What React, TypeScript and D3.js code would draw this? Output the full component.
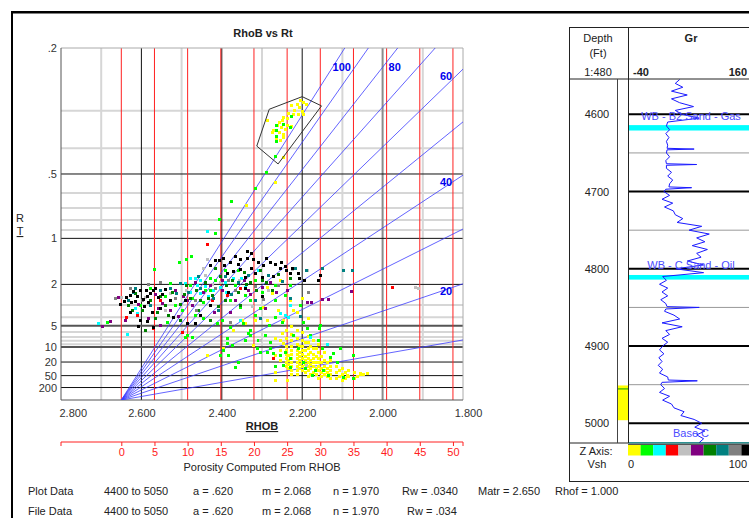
import React, { useEffect, useRef } from 'react';
import * as d3 from 'd3';

const FONT = '"Liberation Sans", Arial, sans-serif';

// parameters printed in the footer, also used for the Sw lines
const paramA = 0.62;
const paramM = 2.068;
const paramN = 1.97;
const paramRw = 0.034;
const matrixDensity = 2.65;
const fluidDensity = 1.0;

const rhobTicks = [2.8, 2.6, 2.4, 2.2, 2.0, 1.8];
const rhobMinor = [2.7, 2.5, 2.3, 2.1, 1.9];
const rtTickLabels = [0.2, 0.5, 1, 2, 5, 10, 20, 50, 200];
const rtMajor = [0.5, 1, 2, 20, 50, 200];
const rtMid = [5, 10];
const rtMinor = [0.3, 0.4, 0.6, 0.7, 0.8, 0.9, 3, 4, 6, 7, 8, 9];
const porosityTicks = [0, 5, 10, 15, 20, 25, 30, 35, 40, 45, 50];
const swValues = [10, 20, 30, 40, 50, 60, 70, 80, 90, 100];
const swLabeled = [100, 80, 60, 40, 20];

const vshColors = ['#ffff00', '#00ff00', '#00ffff', '#ff0000', '#c0c0c0', '#800080', '#008000', '#008080', '#808080', '#000000'];

// [RHOB, Rt] by Vsh class
const yellowPts: [number, number][] = [
  [2.205, 0.279], [2.197, 0.283], [2.214, 0.286], [2.229, 0.288], [2.207, 0.292], [2.201, 0.3], [2.22, 0.298], [2.236, 0.304],
  [2.21, 0.308], [2.197, 0.308], [2.222, 0.308], [2.247, 0.313], [2.239, 0.317], [2.251, 0.322], [2.257, 0.327], [2.247, 0.33],
  [2.239, 0.333], [2.262, 0.334], [2.253, 0.339], [2.243, 0.344], [2.257, 0.351], [2.272, 0.347], [2.249, 0.358], [2.247, 0.365],
  [2.264, 0.368], [2.255, 0.373], [2.276, 0.351], [2.288, 0.321], [2.268, 0.538], [2.249, 0.429], [2.228, 0.336], [2.191, 0.286],
  [2.288, 2.1], [2.275, 2.35], [2.255, 1.85], [2.23, 2.7], [2.2, 2.59], [2.223, 3.36], [2.26, 3.36], [2.298, 3.14],
  [2.35, 4.28], [2.342, 4.63], [2.288, 4.28], [2.248, 4.28], [2.25, 6.18], [2.268, 7.25], [2.248, 8.6], [2.372, 5.64],
  [2.437, 14.1], [2.397, 10.4], [2.322, 9.29], [2.268, 75], [2.238, 75], [2.089, 47.4], [2.039, 40.5], [2.056, 40.5],
  [2.34, 0.68], [2.213, 3.51], [2.186, 4.07], [2.317, 4.28],
  [2.24, 5.64], [2.24, 7.25], [2.24, 9.65], [2.24, 11.3], [2.24, 13.4], [2.24, 16.2], [2.24, 20], [2.24, 25.1],
  [2.228, 5.03], [2.228, 6.37], [2.228, 7.76], [2.228, 9.65], [2.228, 11.3], [2.228, 13.4], [2.228, 16.2], [2.228, 20], [2.228, 25.1], [2.228, 32.5], [2.228, 43.7],
  [2.213, 5.64], [2.213, 7.25], [2.213, 8.95], [2.213, 11.3], [2.213, 13.4], [2.213, 16.2], [2.213, 20], [2.213, 25.1], [2.213, 32.5], [2.213, 43.7],
  [2.2, 5.99], [2.2, 7.76], [2.2, 9.65], [2.2, 11.3], [2.2, 13.4], [2.2, 16.2], [2.2, 20], [2.2, 25.1], [2.2, 32.5],
  [2.186, 6.79], [2.186, 8.32], [2.186, 10.4], [2.186, 13.4], [2.186, 16.2], [2.186, 20], [2.186, 25.1], [2.186, 32.5], [2.186, 51.6],
  [2.173, 7.76], [2.173, 10.4], [2.173, 13.4], [2.173, 16.2], [2.173, 20], [2.173, 25.1], [2.173, 37.5],
  [2.161, 8.95], [2.161, 12.3], [2.161, 16.2], [2.161, 20], [2.161, 25.1], [2.161, 32.5], [2.161, 61.8],
  [2.146, 12.3], [2.146, 17.9], [2.146, 25.1], [2.146, 32.5], [2.146, 43.7],
  [2.131, 17.9], [2.131, 25.1], [2.131, 32.5], [2.131, 43.7], [2.131, 61.8],
  [2.116, 25.1], [2.116, 37.5], [2.116, 61.8], [2.101, 28.5], [2.101, 43.7], [2.101, 75],
  [2.086, 32.5], [2.086, 51.6], [2.071, 37.5], [2.071, 61.8], [2.056, 43.7],
  [2.255, 7.76], [2.255, 11.3], [2.255, 17.9], [2.268, 14.1], [2.268, 37.5],
  [2.235, 14.1], [2.235, 17.9], [2.235, 22.3], [2.235, 28.5],
  [2.207, 9.65], [2.207, 12.3], [2.207, 14.7], [2.207, 17.9], [2.207, 22.3], [2.207, 28.5],
  [2.193, 8.32], [2.193, 11.3], [2.193, 14.7], [2.193, 17.9], [2.193, 22.3], [2.193, 37.5],
  [2.18, 9.65], [2.18, 12.3], [2.18, 17.9], [2.18, 22.3], [2.18, 28.5], [2.18, 43.7],
  [2.166, 10.4], [2.166, 14.7], [2.166, 20], [2.166, 28.5], [2.166, 43.7],
  [2.153, 14.7], [2.153, 20], [2.153, 28.5], [2.153, 37.5], [2.153, 51.6],
  [2.138, 20], [2.138, 28.5], [2.138, 37.5], [2.138, 51.6],
  [2.108, 32.5], [2.108, 51.6], [2.093, 37.5], [2.093, 61.8], [2.063, 51.6], [2.048, 43.7],
];

const limePts: [number, number][] = [
  [2.579, 2.13], [2.541, 2.49], [2.516, 3.0], [2.479, 2.02], [2.442, 2.22], [2.417, 1.85], [2.392, 1.57], [2.367, 2.02],
  [2.342, 2.44], [2.317, 1.85], [2.3, 2.3], [2.268, 2.02], [2.23, 2.02], [2.205, 3.0], [2.268, 2.7], [2.38, 2.7],
  [2.467, 1.92], [2.429, 1.79], [2.474, 2.59], [2.447, 2.81], [2.499, 3.36], [2.467, 3.78], [2.399, 4.28], [2.38, 5.17],
  [2.347, 4.63], [2.317, 3.78], [2.305, 3.21], [2.355, 3.14], [2.335, 6.18], [2.492, 7.0], [2.474, 7.0], [2.387, 8.6],
  [2.536, 4.51], [2.487, 6.58], [2.412, 4.63], [2.404, 14.1], [2.385, 14.1], [2.397, 11.3], [2.375, 9.29], [2.36, 20],
  [2.367, 26.5], [2.387, 7.25],
  [2.268, 3.97], [2.25, 4.51], [2.283, 4.89], [2.33, 5.64], [2.33, 6.58], [2.31, 7.76], [2.28, 8.32], [2.28, 10.4],
  [2.305, 12.3], [2.288, 12.3], [2.273, 12.9], [2.255, 14.1], [2.243, 12.3], [2.23, 16.2], [2.23, 26.5], [2.248, 23.7],
  [2.268, 25.1], [2.198, 20], [2.193, 28.5], [2.176, 47.4], [2.168, 32.5], [2.148, 32.5], [2.131, 15.4], [2.123, 12.9],
  [2.136, 47.4], [2.099, 56], [2.074, 61.8], [2.114, 20], [2.21, 10.4], [2.223, 6.58], [2.198, 4.51], [2.188, 5.32],
  [2.151, 10.4], [2.106, 10.4], [2.074, 14.1], [2.181, 6.58], [2.161, 7.76], [2.156, 4.89], [2.158, 5.32],
  [2.377, 0.65], [2.407, 0.79], [2.417, 0.94], [2.506, 1.38], [2.477, 1.27], [2.569, 1.55], [2.489, 1.32], [2.686, 4.51],
  [2.317, 0.57], [2.229, 0.311], [2.23, 0.339], [2.249, 0.33], [2.266, 0.334], [2.266, 0.345], [2.266, 0.363], [2.266, 0.376],
  [2.268, 0.427], [2.29, 0.49],
  [2.603, 3.0], [2.529, 1.95], [2.429, 2.22], [2.36, 1.57], [2.33, 2.7], [2.243, 2.44], [2.447, 4.07], [2.293, 6.58],
  [2.342, 7.76], [2.312, 10.4],
];

const cyanPts: [number, number][] = [
  [2.708, 4.63], [2.636, 6.37], [2.479, 1.79], [2.467, 1.79], [2.454, 1.85], [2.462, 2.02], [2.372, 1.79], [2.352, 1.8],
  [2.342, 2.1], [2.422, 2.22], [2.616, 3.21], [2.611, 3.6], [2.492, 1.95], [2.454, 2.34], [2.404, 2.1], [2.255, 3.6],
  [2.243, 3.78], [2.235, 3.97], [2.181, 7.0], [2.138, 8.95], [2.355, 4.28], [2.434, 2.49], [2.392, 1.92], [2.31, 1.57],
  [2.23, 3.0], [2.438, 0.91], [2.442, 2.06], [2.39, 2.3], [2.479, 2.3],
];

const redPts: [number, number][] = [
  [2.638, 3.97], [2.611, 3.78], [2.571, 5.32], [2.633, 3.0], [2.499, 5.99], [2.387, 2.44], [2.355, 2.13], [2.438, 1.08],
  [1.977, 2.1], [2.272, 16], [2.554, 2.7], [2.424, 2.7],
];

const silverPts: [number, number][] = [
  [2.651, 2.54], [2.591, 2.54], [2.541, 3.36], [2.489, 2.22], [2.442, 1.7], [2.404, 1.92], [2.358, 1.85], [2.285, 2.22],
  [2.188, 1.57], [2.225, 1.55], [1.919, 2.1], [1.912, 2.13], [2.305, 7.76], [2.191, 23.7], [2.447, 1.52], [2.325, 3.07],
  [2.438, 1.33], [2.529, 2.34], [2.424, 1.99],
];

const purplePts: [number, number][] = [
  [2.698, 5.03], [2.678, 4.4], [2.658, 2.54], [2.608, 2.94], [2.566, 2.39], [2.549, 2.87], [2.529, 3.36], [2.516, 2.22],
  [2.497, 2.49], [2.474, 3.0], [2.447, 2.3], [2.429, 2.02], [2.399, 2.22], [2.367, 2.7], [2.33, 2.39], [2.3, 2.1],
  [2.28, 1.92], [2.265, 2.3], [2.238, 2.22], [2.188, 2.81], [2.178, 2.81], [2.151, 2.64], [2.136, 2.64], [2.079, 2.26],
  [2.509, 3.87], [2.584, 4.07], [2.467, 1.92], [2.38, 3.51], [2.293, 3.21], [2.419, 3.51], [2.554, 4.89], [2.641, 4.28],
  [2.345, 1.85], [2.487, 2.7], [2.559, 3.21], [2.335, 2.22], [2.399, 1.85],
];

const greenPts: [number, number][] = [
  [2.616, 2.34], [2.579, 2.7], [2.599, 3.36], [2.554, 2.49], [2.524, 2.3], [2.504, 2.94], [2.479, 2.59], [2.464, 2.22],
  [2.442, 1.92], [2.424, 2.44], [2.404, 1.73], [2.39, 2.02], [2.375, 1.85], [2.36, 2.3], [2.345, 1.62], [2.33, 1.92],
  [2.315, 2.22], [2.29, 1.92], [2.275, 2.22], [2.26, 1.67], [2.454, 2.7], [2.489, 2.02], [2.534, 3.78], [2.566, 4.07],
  [2.591, 5.64], [2.459, 3.36], [2.417, 1.52], [2.305, 1.57], [2.23, 1.79], [2.429, 4.28], [2.392, 2.7], [2.355, 3.0],
  [2.504, 4.28], [2.633, 3.0], [2.541, 3.0], [2.494, 2.39], [2.434, 2.59], [2.409, 3.07], [2.34, 1.99], [2.3, 1.85],
  [2.623, 3.36], [2.561, 3.51],
];

const tealPts: [number, number][] = [
  [2.616, 2.13], [2.621, 2.3], [2.529, 2.13], [2.484, 2.3], [2.454, 2.13], [2.422, 2.59], [2.392, 1.73], [2.36, 1.92],
  [2.335, 1.7], [2.285, 1.7], [2.25, 1.88], [2.218, 1.52], [2.191, 1.57], [2.151, 1.52], [2.098, 1.57], [2.076, 1.57],
  [2.504, 1.95], [2.579, 3.0], [2.554, 2.22], [2.409, 3.36], [2.317, 2.7], [2.633, 2.7], [2.305, 4.07], [2.23, 2.59],
  [2.205, 3.87], [2.459, 1.73], [2.514, 2.34], [2.377, 2.39],
];

const grayPts: [number, number][] = [
  [2.666, 2.59], [2.584, 1.99], [2.516, 2.59], [2.467, 2.7], [2.417, 2.13], [2.367, 2.22], [2.317, 2.06], [2.26, 2.02],
  [2.38, 4.51], [2.464, 3.36], [2.599, 2.7], [2.298, 2.64], [2.186, 2.3], [2.628, 2.13], [2.554, 1.92], [2.385, 1.85],
];

const blackPts: [number, number][] = [
  [2.417, 1.35], [2.407, 1.35], [2.395, 1.45], [2.38, 1.39], [2.367, 1.27], [2.355, 1.33], [2.337, 1.18], [2.327, 1.22],
  [2.337, 1.31], [2.31, 1.39], [2.298, 1.45], [2.28, 1.39], [2.268, 1.43], [2.255, 1.52], [2.243, 1.47], [2.21, 1.65],
  [2.208, 1.79], [2.196, 1.85], [2.161, 1.85], [2.156, 1.7], [2.387, 1.65], [2.372, 1.59], [2.355, 1.54], [2.327, 1.52],
  [2.317, 1.65], [2.3, 1.76], [2.273, 1.73], [2.385, 2.3], [2.342, 2.13], [2.3, 2.49], [2.24, 1.57], [2.225, 1.52],
  [2.628, 2.44], [2.616, 2.76], [2.603, 2.22], [2.589, 2.22], [2.586, 2.49], [2.584, 2.81], [2.571, 2.22], [2.559, 2.54],
  [2.628, 3.51], [2.603, 4.28], [2.586, 4.4], [2.571, 5.17], [2.608, 5.03], [2.574, 3.51], [2.554, 3.21], [2.487, 4.63],
  [2.467, 4.63], [2.521, 3.97], [2.621, 2.26], [2.643, 2.76], [2.541, 2.17], [2.529, 2.7], [2.454, 3.78], [2.429, 3.0],
  [2.638, 2.54], [2.626, 2.81], [2.611, 2.49], [2.596, 2.64], [2.579, 2.34], [2.566, 2.13], [2.549, 2.39], [2.594, 3.07],
  [2.653, 2.94], [2.492, 2.7], [2.397, 1.31], [2.36, 1.43], [2.322, 1.33], [2.29, 1.31], [2.253, 1.39], [2.23, 1.65],
  [2.342, 1.76], [2.429, 1.45],
];

const vshGroups = [yellowPts, limePts, cyanPts, redPts, silverPts, purplePts, greenPts, tealPts, grayPts, blackPts];

// hand drawn selection polygon [RHOB, Rt]
const selectionPoly: [number, number][] = [[2.282, 0.297], [2.2, 0.272], [2.152, 0.29], [2.26, 0.457], [2.313, 0.393]];

const plotDataRow = ['Plot Data', '4400 to 5050', 'a = .620', 'm = 2.068', 'n = 1.970', 'Rw = .0340', 'Matr = 2.650', 'Rhof = 1.000'];
const fileDataRow = ['File Data', '4400 to 5050', 'a = .620', 'm = 2.068', 'n = 1.970', 'Rw = .034'];

// depth track
const depthLabels = [4600, 4700, 4800, 4900, 5000];
const depthHalf = [4650, 4750, 4850, 4950];
const topNames = ['WB - B2 Sand - Gas', 'WB - C Sand - Oil', 'Base C'];
const topDepths = [4602, 4795, 5012];
const bandTops = [4614, 4808, 5024.5];
const bandBases = [4621, 4814, 5026];
const zoneTop = 4951;
const zoneBase = 4996;
const zoneMark = 4955.5;

// [depth, GR]
const grCurve: [number, number][] = [
  [4555, 42], [4560, 35], [4565, 47], [4570, 29], [4575, 54], [4580, 29], [4585, 42], [4590, 64], [4595, 35], [4600, 46],
  [4605, 73], [4610, 23], [4615, 21], [4620, 26], [4625, 20], [4630, 25], [4635, 21], [4640, 23], [4644, 22], [4645, 65],
  [4646, 22], [4650, 21], [4655, 26], [4660, 20], [4664, 21], [4665, 69], [4666, 21], [4670, 21], [4675, 29], [4680, 23],
  [4685, 31], [4690, 26], [4694, 25], [4695, 61], [4697, 20], [4700, 17], [4705, 26], [4710, 14], [4715, 31], [4720, 18],
  [4725, 32], [4730, 35], [4735, 47], [4740, 38], [4745, 77], [4750, 57], [4755, 89], [4760, 69], [4765, 82], [4770, 62],
  [4775, 86], [4780, 69], [4785, 76], [4790, 54], [4795, 80], [4800, 36], [4805, 80], [4810, 15], [4815, 21], [4820, 10],
  [4825, 23], [4830, 14], [4835, 23], [4840, 12], [4845, 20], [4849, 22], [4850, 73], [4852, 20], [4855, 18], [4860, 33],
  [4865, 42], [4870, 14], [4875, 46], [4880, 20], [4885, 26], [4890, 14], [4895, 23], [4900, 15], [4905, 10], [4910, 17],
  [4915, 9], [4920, 14], [4925, 8], [4930, 15], [4935, 10], [4940, 23], [4944, 24], [4945, 70], [4947, 14], [4950, 12],
  [4955, 18], [4960, 10], [4965, 26], [4970, 15], [4975, 29], [4980, 33], [4985, 49], [4990, 44], [4995, 65], [5000, 77],
  [5005, 66], [5010, 82], [5015, 69], [5020, 80], [5025, 73],
];

const zAxisLabels = ['0', '100'];

export default function App() {
  const ref = useRef<SVGSVGElement>(null);

  useEffect(() => {
    const svg = d3.select(ref.current);
    svg.selectAll('*').remove();

    const L = 61, R = 463, T = 48, B = 400;
    const x = d3.scaleLinear().domain([2.8, 1.8]).range([L, R]);
    // Hingle style axis: Rt^(-1/m) is linear
    const y = d3.scalePow().exponent(-1 / paramM).domain([0.2, 1e12]).range([T, B]);
    const phiToRhob = (p: number) => matrixDensity - p * (matrixDensity - fluidDensity);
    const xPor = d3.scaleLinear().domain([0, 100]).range([x(phiToRhob(0)), x(phiToRhob(1))]);

    // outer frame
    svg.append('rect').attr('x', 11).attr('y', 11).attr('width', 740).attr('height', 2.5).attr('fill', '#000');
    svg.append('rect').attr('x', 11).attr('y', 11).attr('width', 2).attr('height', 510).attr('fill', '#000');

    svg.append('text').attr('x', 263).attr('y', 37).attr('text-anchor', 'middle')
      .attr('font-family', FONT).attr('font-size', 11).attr('font-weight', 'bold').attr('fill', '#222')
      .text('RhoB vs Rt');

    const grid = svg.append('g');
    grid.selectAll('.vmin').data(rhobMinor).enter().append('line')
      .attr('x1', d => x(d)).attr('x2', d => x(d)).attr('y1', T).attr('y2', B)
      .attr('stroke', '#d6d6d6').attr('stroke-width', 2);
    grid.selectAll('.hmin').data(rtMinor).enter().append('line')
      .attr('x1', L).attr('x2', R).attr('y1', d => y(d)).attr('y2', d => y(d))
      .attr('stroke', '#d6d6d6').attr('stroke-width', 2);
    grid.selectAll('.vmaj').data([2.6, 2.4, 2.2]).enter().append('line')
      .attr('x1', d => x(d)).attr('x2', d => x(d)).attr('y1', T).attr('y2', B)
      .attr('stroke', '#111').attr('stroke-width', 1);
    grid.append('line').attr('x1', x(2.0)).attr('x2', x(2.0)).attr('y1', T).attr('y2', B)
      .attr('stroke', '#8c8c8c').attr('stroke-width', 2);
    grid.selectAll('.hmaj').data(rtMajor).enter().append('line')
      .attr('x1', L).attr('x2', R).attr('y1', d => y(d)).attr('y2', d => y(d))
      .attr('stroke', '#111').attr('stroke-width', 1);
    grid.selectAll('.hmid').data(rtMid).enter().append('line')
      .attr('x1', L).attr('x2', R).attr('y1', d => y(d)).attr('y2', d => y(d))
      .attr('stroke', '#555').attr('stroke-width', 2);
    // porosity lines
    grid.selectAll('.por').data(porosityTicks).enter().append('line')
      .attr('x1', d => xPor(d)).attr('x2', d => xPor(d)).attr('y1', T).attr('y2', B)
      .attr('stroke', '#ff2020').attr('stroke-width', 1);

    // plot border
    grid.append('line').attr('x1', L).attr('x2', R).attr('y1', T).attr('y2', T).attr('stroke', '#aaa');
    grid.append('line').attr('x1', R).attr('x2', R).attr('y1', T).attr('y2', B).attr('stroke', '#aaa');
    grid.append('line').attr('x1', L).attr('x2', L).attr('y1', T).attr('y2', B).attr('stroke', '#555');
    grid.append('line').attr('x1', L).attr('x2', R).attr('y1', B).attr('y2', B).attr('stroke', '#555');

    // Sw lines
    svg.append('defs').append('clipPath').attr('id', 'plotClip')
      .append('rect').attr('x', L).attr('y', T).attr('width', R - L).attr('height', B - T);
    const rtFor = (phi: number, sw: number) => (paramA * paramRw) / (Math.pow(phi, paramM) * Math.pow(sw / 100, paramN));
    svg.append('g').attr('clip-path', 'url(#plotClip)')
      .selectAll('path').data(swValues).enter().append('path')
      .attr('d', sw => d3.line<number>()
        .x(phi => x(phiToRhob(phi)))
        .y(phi => (phi === 0 ? B : y(rtFor(phi, sw))))([0, 0.6]))
      .attr('fill', 'none').attr('stroke', '#3c3cff').attr('stroke-width', 0.8);

    const phiRight = (matrixDensity - 1.8) / (matrixDensity - fluidDensity);
    swLabeled.forEach(sw => {
      const yEdge = y(rtFor(phiRight, sw));
      let lx: number, ly: number;
      if (yEdge >= T) {
        lx = 446; ly = yEdge + 7;
      } else {
        const phiTop = Math.pow((paramA * paramRw) / (0.2 * Math.pow(sw / 100, paramN)), 1 / paramM);
        lx = x(phiToRhob(phiTop)) - 3; ly = 67;
      }
      svg.append('text').attr('x', lx).attr('y', ly + 4).attr('text-anchor', 'middle')
        .attr('font-family', FONT).attr('font-size', 11).attr('font-weight', 'bold').attr('fill', '#0000ee')
        .text(String(sw));
    });

    // scatter
    const pts = svg.append('g');
    vshGroups.forEach((group, i) => {
      pts.selectAll(null).data(group).enter().append('rect')
        .attr('x', d => Math.round(x(d[0])) - 1).attr('y', d => Math.round(y(d[1])) - 1)
        .attr('width', 3).attr('height', 3).attr('fill', vshColors[i]);
    });

    svg.append('path')
      .datum(selectionPoly)
      .attr('d', d3.line<[number, number]>().x(d => x(d[0])).y(d => y(d[1])).curve(d3.curveLinearClosed))
      .attr('fill', 'none').attr('stroke', '#333').attr('stroke-width', 1);

    // axes
    const xAxis = svg.append('g').attr('transform', `translate(0,${B + 9})`)
      .call(d3.axisBottom(x).tickValues(rhobTicks).tickFormat(d3.format('.3f')).tickSize(0).tickPadding(0));
    xAxis.select('.domain').remove();
    xAxis.selectAll('text').attr('font-family', FONT).attr('font-size', 11).attr('fill', '#333');
    xAxis.selectAll('text').filter(d => d === 2.8).attr('text-anchor', 'start').attr('x', -2);
    xAxis.selectAll('text').filter(d => d === 1.8).attr('x', 5);

    const yAxis = svg.append('g').attr('transform', `translate(${L},0)`)
      .call(d3.axisLeft(y).tickValues(rtTickLabels)
        .tickFormat(d => (+d < 1 ? '.' + String(d).split('.')[1] : String(d))).tickSize(0).tickPadding(4));
    yAxis.select('.domain').remove();
    yAxis.selectAll('text').attr('font-family', FONT).attr('font-size', 11).attr('fill', '#333');

    svg.append('text').attr('x', 20).attr('y', 222).attr('text-anchor', 'middle')
      .attr('font-family', FONT).attr('font-size', 11).attr('fill', '#222').text('R');
    svg.append('text').attr('x', 20).attr('y', 235).attr('text-anchor', 'middle')
      .attr('font-family', FONT).attr('font-size', 11).attr('fill', '#222').attr('text-decoration', 'underline').text('T');

    svg.append('text').attr('x', 262).attr('y', 430).attr('text-anchor', 'middle')
      .attr('font-family', FONT).attr('font-size', 11).attr('font-weight', 'bold').attr('fill', '#222')
      .attr('text-decoration', 'underline').text('RHOB');

    // porosity axis
    const porY = 442;
    svg.append('line').attr('x1', L).attr('x2', R).attr('y1', porY).attr('y2', porY).attr('stroke', '#ff2020');
    svg.selectAll('.pend').data([L, R]).enter().append('line')
      .attr('x1', d => d).attr('x2', d => d).attr('y1', porY).attr('y2', porY + 4).attr('stroke', '#ff2020');
    const porAxis = svg.append('g').attr('transform', `translate(0,${porY})`)
      .call(d3.axisBottom(xPor).tickValues(porosityTicks).tickSize(4).tickPadding(2));
    porAxis.select('.domain').remove();
    porAxis.selectAll('line').attr('stroke', '#ff2020');
    porAxis.selectAll('text').attr('font-family', FONT).attr('font-size', 11).attr('fill', '#ff2020');
    svg.append('text').attr('x', 262).attr('y', 471).attr('text-anchor', 'middle')
      .attr('font-family', FONT).attr('font-size', 11).attr('fill', '#222').text('Porosity Computed From  RHOB');

    // footer rows
    const rowX1 = [28, 104, 193, 262, 333, 402, 478, 555];
    const rowX2 = [28, 104, 193, 262, 333, 407];
    const foot = svg.append('g').attr('font-family', FONT).attr('font-size', 11).attr('fill', '#222');
    plotDataRow.forEach((t, i) => foot.append('text').attr('x', rowX1[i]).attr('y', 495).text(t));
    fileDataRow.forEach((t, i) => foot.append('text').attr('x', rowX2[i]).attr('y', 515).text(t));

    // ---- depth track ----
    const dy = d3.scaleLinear().domain([4600, 5000]).range([114.3, 423.3]);
    const gx = d3.scaleLinear().domain([-40, 160]).range([628, 754]);
    const trk = svg.append('g');
    const boxL = 569.5, boxT = 27.5, hdrB = 79, trkB = 443, boxB = 481.5, depR = 628.5, inner = 617.5;

    bandTops.forEach((t, i) => {
      trk.append('rect').attr('x', depR).attr('y', dy(t)).attr('width', 140).attr('height', dy(bandBases[i]) - dy(t))
        .attr('fill', '#00ffff');
    });
    trk.selectAll('.dh').data(depthHalf).enter().append('line')
      .attr('x1', depR).attr('x2', 770).attr('y1', d => dy(d)).attr('y2', d => dy(d)).attr('stroke', '#999');
    trk.selectAll('.dm').data(depthLabels).enter().append('line')
      .attr('x1', depR).attr('x2', 770).attr('y1', d => dy(d)).attr('y2', d => dy(d))
      .attr('stroke', '#000').attr('stroke-width', 2);

    trk.append('rect').attr('x', inner).attr('y', dy(zoneTop)).attr('width', depR - inner).attr('height', dy(zoneBase) - dy(zoneTop))
      .attr('fill', '#ffff00');
    trk.append('line').attr('x1', inner).attr('x2', depR).attr('y1', dy(zoneMark)).attr('y2', dy(zoneMark))
      .attr('stroke', '#00a000');

    trk.append('path').datum(grCurve)
      .attr('d', d3.line<[number, number]>().x(d => gx(d[1])).y(d => dy(d[0])))
      .attr('fill', 'none').attr('stroke', '#1a1aff').attr('stroke-width', 1);

    topNames.forEach((n, i) => {
      trk.append('text').attr('x', 691).attr('y', dy(topDepths[i]) + 4).attr('text-anchor', 'middle')
        .attr('font-family', FONT).attr('font-size', 11).attr('fill', '#4b4bff').text(n);
    });

    // frame lines
    trk.append('rect').attr('x', boxL).attr('y', boxT).attr('width', 300).attr('height', boxB - boxT)
      .attr('fill', 'none').attr('stroke', '#222');
    trk.append('line').attr('x1', boxL).attr('x2', 770).attr('y1', hdrB).attr('y2', hdrB).attr('stroke', '#222');
    trk.append('line').attr('x1', boxL).attr('x2', 770).attr('y1', trkB).attr('y2', trkB).attr('stroke', '#222');
    trk.append('line').attr('x1', depR).attr('x2', depR).attr('y1', boxT).attr('y2', trkB).attr('stroke', '#222');
    trk.append('line').attr('x1', inner).attr('x2', inner).attr('y1', hdrB).attr('y2', trkB).attr('stroke', '#444');

    const hdr = trk.append('g').attr('font-family', FONT).attr('font-size', 11).attr('fill', '#222');
    hdr.append('text').attr('x', 598).attr('y', 42).attr('text-anchor', 'middle').text('Depth');
    hdr.append('text').attr('x', 598).attr('y', 57).attr('text-anchor', 'middle').text('(Ft)');
    hdr.append('text').attr('x', 598).attr('y', 76).attr('text-anchor', 'middle').text('1:480');
    hdr.append('text').attr('x', 691).attr('y', 42).attr('text-anchor', 'middle').attr('font-weight', 'bold').text('Gr');
    hdr.append('text').attr('x', 633).attr('y', 76).attr('font-weight', 'bold').text(String(gx.domain()[0]));
    hdr.append('text').attr('x', 747).attr('y', 76).attr('text-anchor', 'end').attr('font-weight', 'bold').text(String(gx.domain()[1]));
    hdr.selectAll('.dl').data(depthLabels).enter().append('text')
      .attr('x', 597).attr('y', d => dy(d) + 4).attr('text-anchor', 'middle').text(d => String(d));

    // Z axis legend
    const zb = d3.scaleBand<number>().domain(vshColors.map((_, i) => i)).range([628, 754]);
    trk.selectAll('.zs').data(vshColors).enter().append('rect')
      .attr('x', (_, i) => zb(i) as number).attr('y', 444.5).attr('width', zb.bandwidth()).attr('height', 11)
      .attr('fill', d => d);
    trk.append('line').attr('x1', 628).attr('x2', 770).attr('y1', 444.5).attr('y2', 444.5).attr('stroke', '#555');
    hdr.append('text').attr('x', 596).attr('y', 455).attr('text-anchor', 'middle').text('Z Axis:');
    hdr.append('text').attr('x', 597).attr('y', 468).attr('text-anchor', 'middle').text('Vsh');
    hdr.append('text').attr('x', 628).attr('y', 468).text(zAxisLabels[0]);
    hdr.append('text').attr('x', 747).attr('y', 468).attr('text-anchor', 'end').text(zAxisLabels[1]);
  }, []);

  return (
    <svg ref={ref} width={749} height={518}
      style={{ position: 'absolute', left: 0, top: 0, background: '#fff', display: 'block' }} />
  );
}
